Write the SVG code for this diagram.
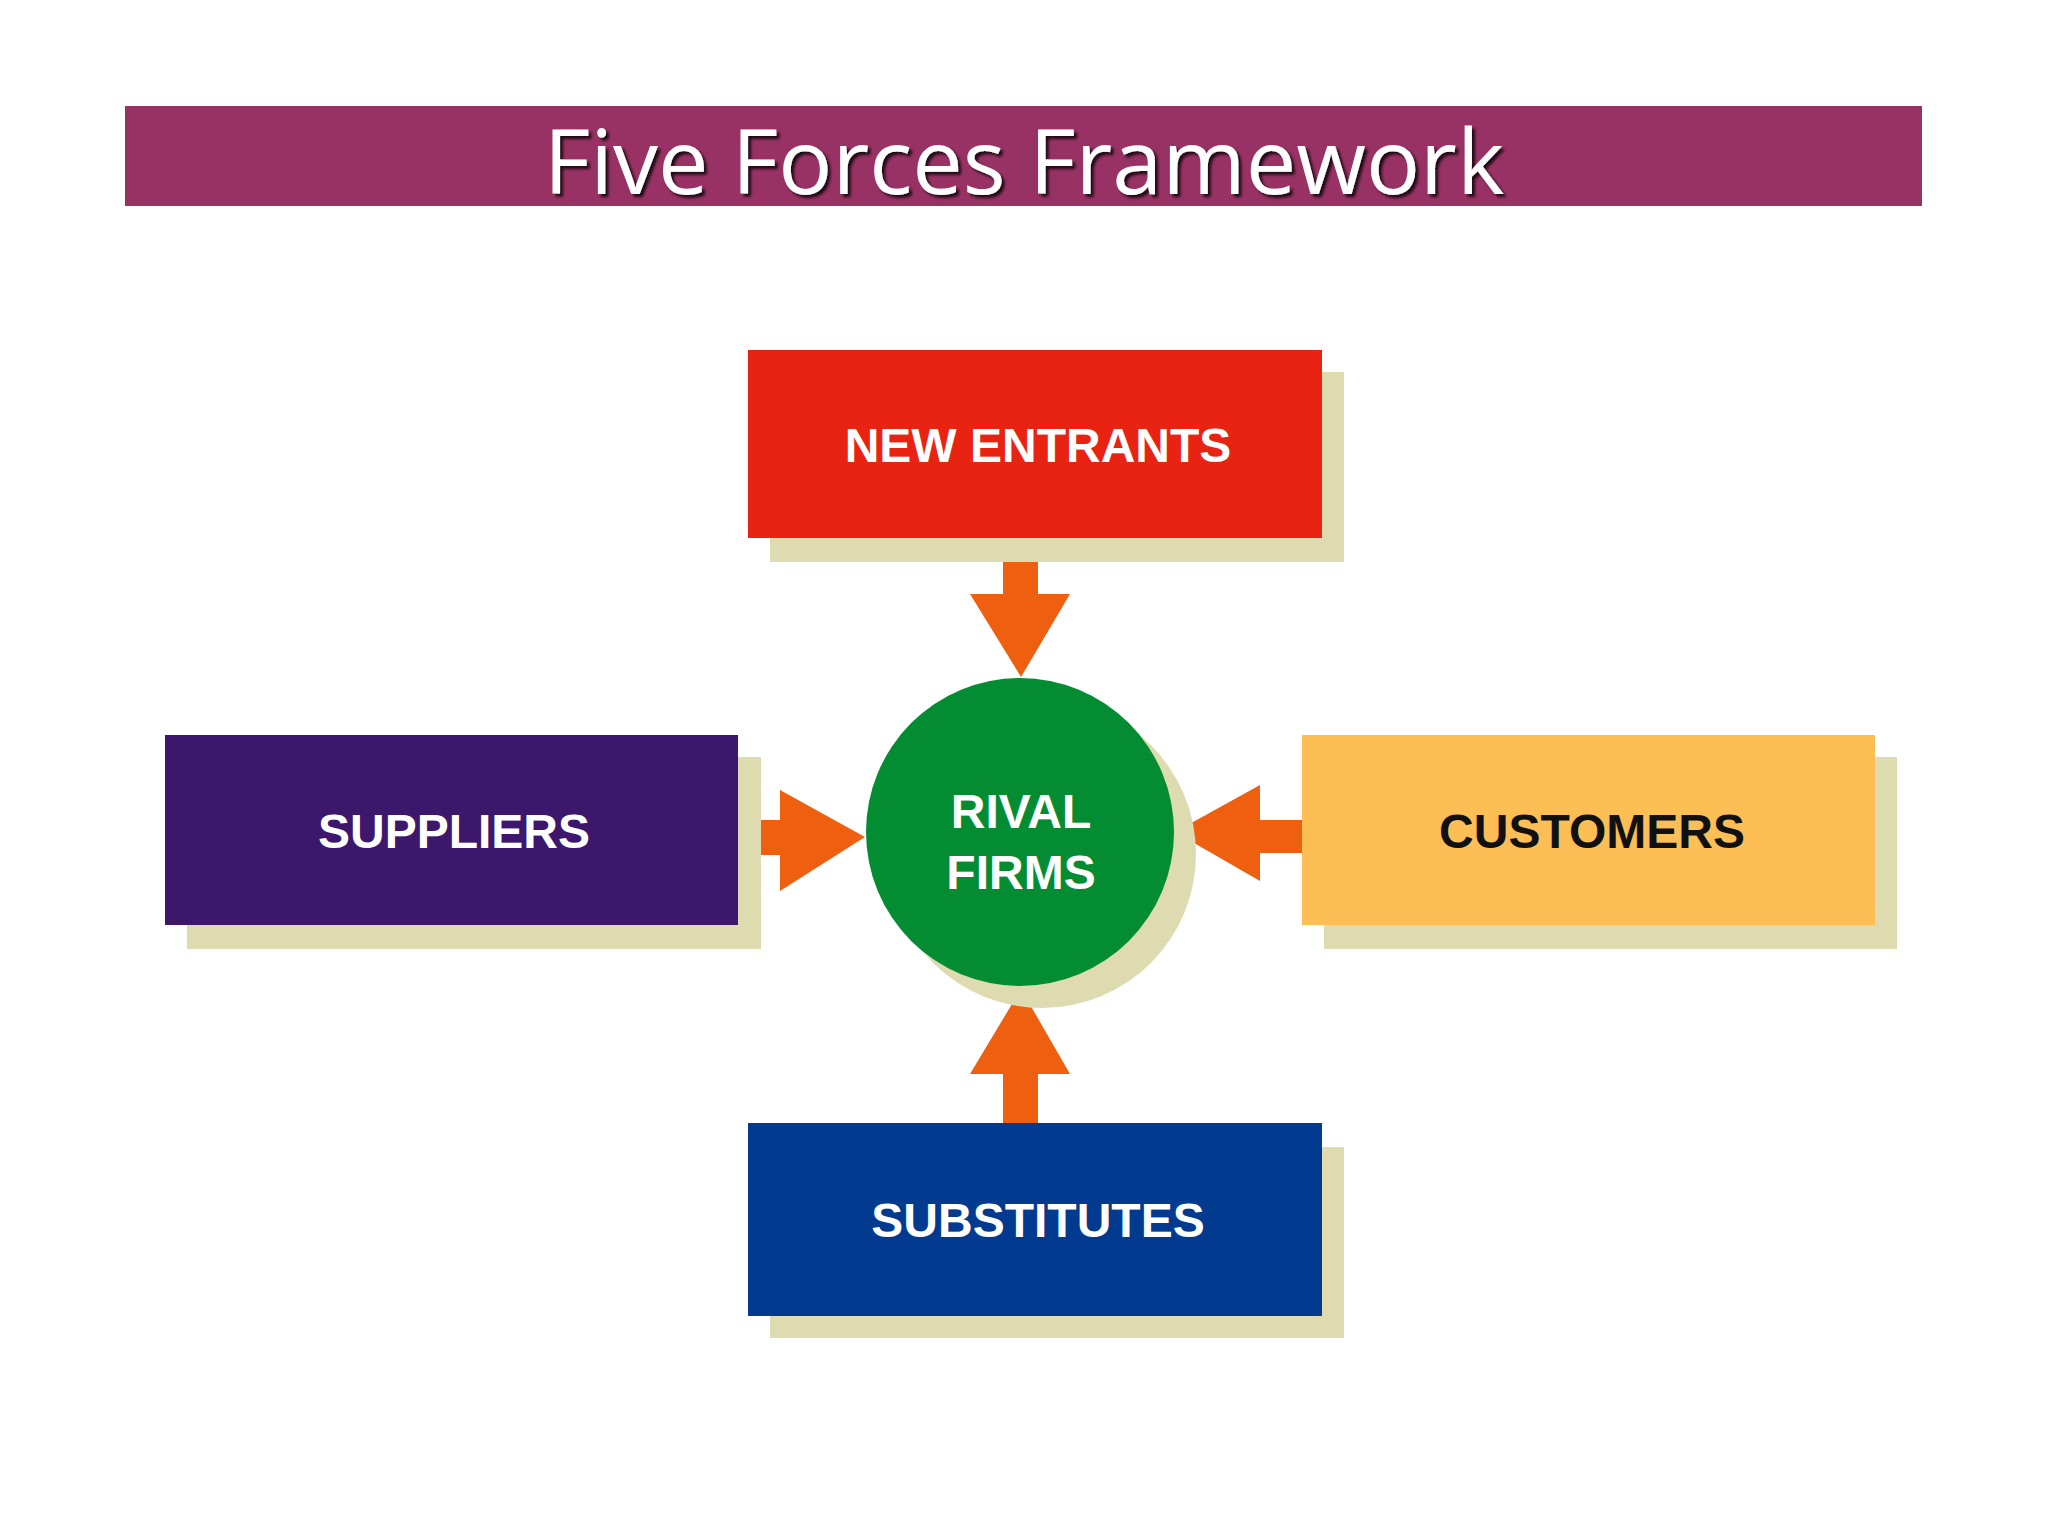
<svg xmlns="http://www.w3.org/2000/svg" width="2048" height="1536" viewBox="0 0 2048 1536">
<defs>
<style>
.sh{fill:#dedbb0}
.lbl{font-family:"Liberation Sans",Arial,sans-serif;font-weight:bold;font-size:48px;text-anchor:middle}
.arr{fill:#ee6010}
</style>
<filter id="ts"><feDropShadow dx="3" dy="3" stdDeviation="1.5" flood-color="#000" flood-opacity="0.8"/></filter>
</defs>
<rect width="2048" height="1536" fill="#fff"/>
<g id="title">
<rect x="125" y="106" width="1797" height="100" fill="#993264"/>
<text x="1024" y="194" font-family="'Open Sans',sans-serif" font-size="90" fill="#fff" text-anchor="middle" filter="url(#ts)">Five Forces Framework</text>
</g>
<g id="connectors">
<polygon class="arr" points="1003,538 1038,538 1038,594 1070,594 1021,677 970,594 1003,594"/>
<polygon class="arr" points="738,820 780,820 780,790 865,837 780,891 780,855 738,855"/>
<polygon class="arr" points="1302,820 1260,820 1260,785 1175,832 1260,881 1260,853 1302,853"/>
<polygon class="arr" points="1003,1123 1038,1123 1038,1074 1070,1074 1021,989 970,1074 1003,1074"/>
</g>
<g id="new-entrants">
<rect class="sh" x="770" y="372" width="574" height="190"/>
<rect x="748" y="350" width="574" height="188" fill="#e82312"/>
<text class="lbl" x="1038" y="462" fill="#fff">NEW ENTRANTS</text>
</g>
<g id="suppliers">
<rect class="sh" x="187" y="757" width="574" height="192"/>
<rect x="165" y="735" width="573" height="190" fill="#3c176c"/>
<text class="lbl" x="454" y="848" fill="#fff">SUPPLIERS</text>
</g>
<g id="customers">
<rect class="sh" x="1324" y="757" width="573" height="192"/>
<rect x="1302" y="735" width="573" height="190" fill="#fcbe55"/>
<text class="lbl" x="1592" y="848" fill="#111">CUSTOMERS</text>
</g>
<g id="substitutes">
<rect class="sh" x="770" y="1147" width="574" height="191"/>
<rect x="748" y="1123" width="574" height="193" fill="#023a90"/>
<text class="lbl" x="1038" y="1237" fill="#fff">SUBSTITUTES</text>
</g>
<g id="rival-firms">
<circle class="sh" cx="1042" cy="854" r="154"/>
<circle cx="1020" cy="832" r="154" fill="#048c32"/>
<text class="lbl" x="1021" y="828" fill="#fff">RIVAL</text>
<text class="lbl" x="1021" y="889" fill="#fff">FIRMS</text>
</g>
</svg>
